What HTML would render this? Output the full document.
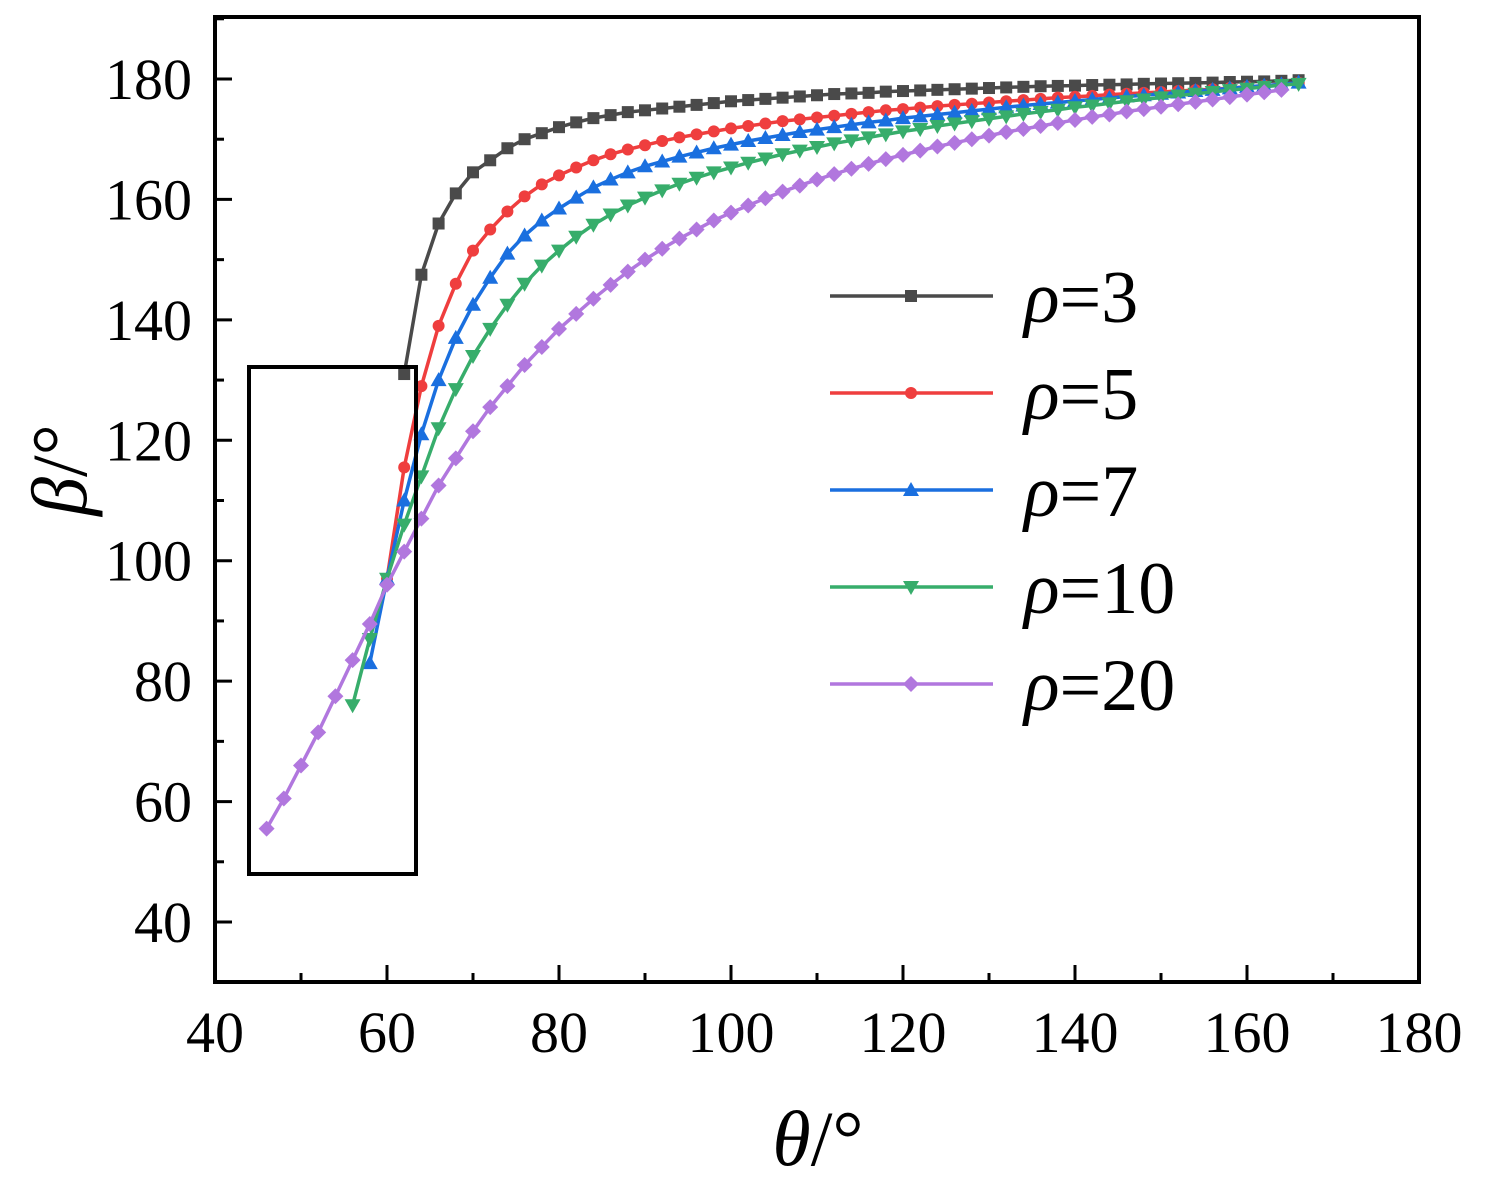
<!DOCTYPE html>
<html><head><meta charset="utf-8"><style>
body{margin:0;background:#fff}
svg{display:block}
text{font-family:"Liberation Serif","Times New Roman",serif;fill:#000}
</style></head><body>
<svg id="chart" width="1492" height="1197" xmlns="http://www.w3.org/2000/svg"></svg>
<script>
const xTicks=[40,60,80,100,120,140,160,180];
const yTicks=[40,60,80,100,120,140,160,180];
const seriesNames=["3","5","7","10","20"];
const x3=[62,64,66,68,70,72,74,76,78,80,82,84,86,88,90,92,94,96,98,100,102,104,106,108,110,112,114,116,118,120,122,124,126,128,130,132,134,136,138,140,142,144,146,148,150,152,154,156,158,160,162,164,166];
const y3=[131,147.5,156,161,164.5,166.5,168.5,170,171,172,172.8,173.5,174,174.5,174.8,175.1,175.4,175.7,176,176.3,176.5,176.7,176.9,177.1,177.3,177.5,177.6,177.7,177.9,178,178.1,178.2,178.3,178.4,178.5,178.6,178.7,178.8,178.85,178.9,179,179.05,179.1,179.2,179.25,179.3,179.35,179.4,179.5,179.55,179.6,179.7,179.8];
const x5=[60,62,64,66,68,70,72,74,76,78,80,82,84,86,88,90,92,94,96,98,100,102,104,106,108,110,112,114,116,118,120,122,124,126,128,130,132,134,136,138,140,142,144,146,148,150,152,154,156,158,160,162,164,166];
const y5=[97,115.5,129,139,146,151.5,155,158,160.5,162.5,164,165.3,166.5,167.5,168.3,169,169.7,170.3,170.8,171.3,171.8,172.2,172.6,173,173.3,173.6,173.9,174.2,174.5,174.8,175,175.25,175.5,175.7,175.9,176.1,176.3,176.5,176.7,176.9,177.05,177.2,177.4,177.55,177.7,177.85,178,178.15,178.3,178.5,178.7,178.9,179.1,179.4];
const x7=[58,60,62,64,66,68,70,72,74,76,78,80,82,84,86,88,90,92,94,96,98,100,102,104,106,108,110,112,114,116,118,120,122,124,126,128,130,132,134,136,138,140,142,144,146,148,150,152,154,156,158,160,162,164,166];
const y7=[83,97,110,121,130,137,142.5,147,151,154,156.5,158.5,160.3,162,163.3,164.5,165.5,166.3,167.1,167.8,168.5,169.1,169.7,170.2,170.7,171.2,171.6,172,172.4,172.8,173.1,173.5,173.8,174.1,174.4,174.7,175,175.3,175.6,175.85,176.1,176.35,176.6,176.85,177.1,177.3,177.55,177.75,178,178.2,178.45,178.7,178.9,179.1,179.4];
const x10=[56,58,60,62,64,66,68,70,72,74,76,78,80,82,84,86,88,90,92,94,96,98,100,102,104,106,108,110,112,114,116,118,120,122,124,126,128,130,132,134,136,138,140,142,144,146,148,150,152,154,156,158,160,162,164,166];
const y10=[76,87,97,106,114,122,128.5,134,138.5,142.5,146,149,151.5,153.8,155.8,157.5,159,160.3,161.5,162.6,163.6,164.5,165.3,166.1,166.8,167.5,168.1,168.7,169.3,169.8,170.3,170.8,171.3,171.7,172.2,172.6,173,173.4,173.8,174.2,174.55,174.9,175.3,175.6,175.95,176.3,176.6,176.95,177.25,177.55,177.85,178.15,178.4,178.7,179,179.2];
const x20=[46,48,50,52,54,56,58,60,62,64,66,68,70,72,74,76,78,80,82,84,86,88,90,92,94,96,98,100,102,104,106,108,110,112,114,116,118,120,122,124,126,128,130,132,134,136,138,140,142,144,146,148,150,152,154,156,158,160,162,164];
const y20=[55.5,60.5,66,71.5,77.5,83.5,89.5,96,101.5,107,112.5,117,121.5,125.5,129,132.5,135.5,138.5,141,143.5,145.8,148,150,151.8,153.5,155,156.5,157.8,159,160.2,161.3,162.3,163.3,164.2,165.1,165.9,166.7,167.4,168.1,168.8,169.4,170,170.6,171.2,171.7,172.2,172.7,173.2,173.7,174.1,174.6,175,175.4,175.8,176.2,176.6,177,177.4,177.8,178.2];

const svg=document.getElementById('chart');
const NS="http://www.w3.org/2000/svg";
const L=215,R=1419,T=17,B=982;
const X=v=>L+(v-40)*(R-L)/140;
const Y=v=>79+(180-v)*(922-79)/140;
function mk(tag,attrs,parent){const e=document.createElementNS(NS,tag);for(const k in attrs)e.setAttribute(k,attrs[k]);(parent||svg).appendChild(e);return e;}
const colors=["#4a4a4a","#ef3e3e","#1a6fdf","#37ad6b","#b177de"];
const shapes=["square","circle","up","down","diamond"];
function marker(shape,cx,cy,col,g){
  let e;
  if(shape==="square")e=mk('rect',{x:cx-6,y:cy-6,width:12,height:12,fill:col},g);
  else if(shape==="circle")e=mk('circle',{cx:cx,cy:cy,r:6,fill:col},g);
  else if(shape==="up")e=mk('polygon',{points:`${cx},${cy-8} ${cx-8},${cy+6} ${cx+8},${cy+6}`,fill:col},g);
  else if(shape==="down")e=mk('polygon',{points:`${cx},${cy+8} ${cx-8},${cy-6} ${cx+8},${cy-6}`,fill:col},g);
  else e=mk('polygon',{points:`${cx},${cy-8} ${cx+8},${cy} ${cx},${cy+8} ${cx-8},${cy}`,fill:col},g);
  
  
}
xTicks.forEach((v,i)=>{
  const t=mk('line',{x1:X(v),x2:X(v),y1:B,y2:B-17,stroke:'#000','stroke-width':3});
  
  
  if(i<xTicks.length-1){const m=mk('line',{x1:X(v+10),x2:X(v+10),y1:B,y2:B-9,stroke:'#000','stroke-width':3});
  
  }
  const lb=mk('text',{x:X(v),y:1052,'font-size':58,'text-anchor':'middle'});lb.textContent=v;
  
  
});
yTicks.forEach((v,i)=>{
  const t=mk('line',{x1:L,x2:L+17,y1:Y(v),y2:Y(v),stroke:'#000','stroke-width':3});
  
  
  const m=mk('line',{x1:L,x2:L+9,y1:Y(v+10),y2:Y(v+10),stroke:'#000','stroke-width':3});
  
  
  if(v===40){const m2=mk('line',{x1:L,x2:L+9,y1:Y(30),y2:Y(30),stroke:'#000','stroke-width':3});
  
  }
  const lb=mk('text',{x:192,y:Y(v)+20,'font-size':58,'text-anchor':'end'});lb.textContent=v;
  
  
});
const frame=mk('rect',{x:L,y:T,width:R-L,height:B-T,fill:'none',stroke:'#000','stroke-width':4});


const xs=[x3,x5,x7,x10,x20],ys=[y3,y5,y7,y10,y20];
xs.forEach((xa,s)=>{
  const g=mk('g',{});
  
  
  const pts=xa.map((x,i)=>X(x)+','+Y(ys[s][i])).join(' ');
  const pl=mk('polyline',{points:pts,fill:'none',stroke:colors[s],'stroke-width':3.5},g);
  
  
  xa.forEach((x,i)=>marker(shapes[s],X(x),Y(ys[s][i]),colors[s],g));
});
const box=mk('rect',{x:249,y:367,width:167,height:507,fill:'none',stroke:'#000','stroke-width':4});


seriesNames.forEach((n,s)=>{
  const y=296+s*97;
  const g=mk('g',{});
  
  
  mk('line',{x1:830,x2:993,y1:y,y2:y,stroke:colors[s],'stroke-width':3.5},g);
  marker(shapes[s],911,y,colors[s],g);
  const t=mk('text',{x:1024,y:y+26,'font-size':74},g);
  const r=mk('tspan',{'font-style':'italic'},t);r.textContent='ρ';
  const q=mk('tspan',{},t);q.textContent='='+n;
  
  
});
const xt=mk('text',{x:818,y:1165,'font-size':78,'text-anchor':'middle'});
const xa1=mk('tspan',{'font-style':'italic'},xt);xa1.textContent='θ';
const xa2=mk('tspan',{},xt);xa2.textContent='/°';


const yt=mk('text',{x:0,y:0,'font-size':78,'text-anchor':'middle',transform:'translate(86,470) rotate(-90)'});
const ya1=mk('tspan',{'font-style':'italic'},yt);ya1.textContent='β';
const ya2=mk('tspan',{},yt);ya2.textContent='/°';


</script>
</body></html>
